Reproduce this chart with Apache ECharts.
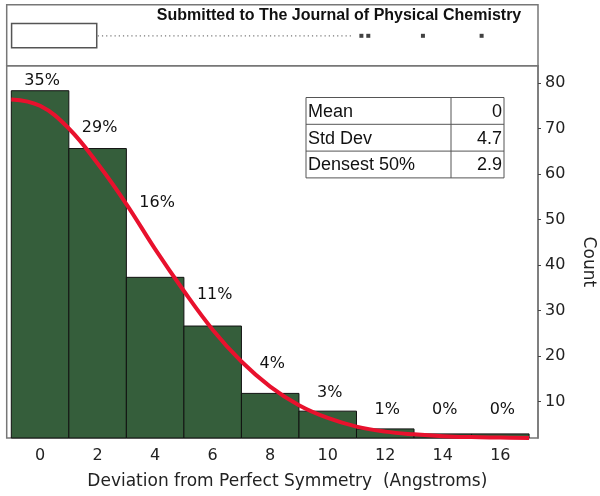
<!DOCTYPE html>
<html>
<head>
<meta charset="utf-8">
<script src="https://cdn.jsdelivr.net/npm/echarts@6/dist/echarts.min.js"></script>
<style>html,body{margin:0;padding:0;background:#fff;}#c{width:600px;height:496px;}</style>
</head>
<body>
<div id="c"></div>
<script>
// ---- data ----
const binCenters = [0, 2, 4, 6, 8, 10, 12, 14, 16];
const counts = [78.3, 65.6, 37.3, 26.6, 11.8, 7.9, 4.0, 2.9, 2.9];
const pctLabels = ['35%', '29%', '16%', '11%', '4%', '3%', '1%', '0%', '0%'];
const xTicks = [0, 2, 4, 6, 8, 10, 12, 14, 16];
const yTicks = [10, 20, 30, 40, 50, 60, 70, 80];
const fitX = [-1, 0, 1, 2, 3, 4, 5, 6, 7, 8, 9, 10, 11, 12, 13, 14, 15, 16, 17];
const fitY = [76.4, 75.0, 70.0, 62.3, 53.4, 43.5, 34.3, 25.8, 18.8, 13.3, 9.2, 6.4, 4.5, 3.4, 2.8, 2.4, 2.2, 2.1, 2.0];
const boxQuartiles = [-0.99, 1.97];
const whiskerHigh = 10.89;
const outliers = [11.17, 11.41, 13.31, 15.35];
const statNames = ['Mean', 'Std Dev', 'Densest 50%'];
const statValues = ['0', '4.7', '2.9'];
const binWidth = 2;

// ---- layout / style ----
const X_MIN = -1.16, X_MAX = 17.31, Y_MIN = 2.0, Y_MAX = 83.8;
const labelDy = [-10, -21, -74, -31, -30, -18, -19, -24, -24];
const barColor = '#355e3b';
const curveColor = '#e8112d';
const frameColor = '#777';
const font = '"DejaVu Sans", sans-serif';

const chart = echarts.init(document.getElementById('c'), null, {renderer: 'canvas'});

const barData = binCenters.map((c, i) => [c, counts[i]]);
const labelData = binCenters.map((c, i) => [c, counts[i], i]);
const fitData = fitX.map((x, i) => [x, fitY[i]]);

// table + title graphics
const tblL = 306, tblR = 504, tblT = 97.5, rowH = 26.8, colX = 451;
const tableFont = '18px "Liberation Sans", Arial, sans-serif';
const tableEls = [];
tableEls.push({type: 'rect', shape: {x: tblL, y: tblT, width: tblR - tblL, height: rowH * 3},
  style: {fill: '#fff', stroke: '#555', lineWidth: 1}, z: 10});
tableEls.push({type: 'line', shape: {x1: colX, y1: tblT, x2: colX, y2: tblT + rowH * 3},
  style: {stroke: '#555', lineWidth: 1}, z: 11});
for (let r = 1; r < 3; r++) {
  tableEls.push({type: 'line', shape: {x1: tblL, y1: tblT + rowH * r, x2: tblR, y2: tblT + rowH * r},
    style: {stroke: '#555', lineWidth: 1}, z: 11});
}
statNames.forEach((n, i) => {
  const cy = tblT + rowH * (i + 0.5) + 1;
  tableEls.push({type: 'text', x: tblL + 2, y: cy, z: 12,
    style: {text: n, fill: '#111', font: tableFont, textAlign: 'left', textVerticalAlign: 'middle', align: 'left', verticalAlign: 'middle'}});
  tableEls.push({type: 'text', x: tblR - 2, y: cy, z: 12,
    style: {text: statValues[i], fill: '#111', font: tableFont, textAlign: 'right', textVerticalAlign: 'middle', align: 'right', verticalAlign: 'middle'}});
});
tableEls.push({type: 'text', x: 339, y: 16, z: 12,
  style: {text: 'Submitted to The Journal of Physical Chemistry', fill: '#111',
    font: 'bold 16px "Liberation Sans", Arial, sans-serif', textAlign: 'center', textVerticalAlign: 'middle', align: 'center', verticalAlign: 'middle'}});

const option = {
  animation: false,
  backgroundColor: '#fff',
  grid: [
    {left: 6.7, right: 62, top: 65.7, bottom: 58, show: true, borderColor: frameColor, borderWidth: 1.5,
      backgroundColor: 'transparent', containLabel: false, outerBoundsMode: 'none'},
    {left: 6.7, right: 62, top: 4.7, height: 61, show: true, borderColor: frameColor, borderWidth: 1.5,
      backgroundColor: 'transparent', containLabel: false, outerBoundsMode: 'none'}
  ],
  xAxis: [
    {type: 'value', gridIndex: 0, min: X_MIN, max: X_MAX,
      axisLine: {show: false, onZero: false}, axisTick: {show: false}, splitLine: {show: false},
      axisLabel: {customValues: xTicks, fontSize: 16, color: '#222', fontFamily: font, margin: 10},
      name: 'Deviation from Perfect Symmetry  (Angstroms)', nameLocation: 'middle', nameGap: 35,
      nameTextStyle: {fontSize: 17, color: '#222', fontFamily: font, padding: [0, 0, 0, 30]}},
    {type: 'value', gridIndex: 1, min: X_MIN, max: X_MAX, show: false}
  ],
  yAxis: [
    {type: 'value', gridIndex: 0, position: 'right', min: Y_MIN, max: Y_MAX,
      axisLine: {show: true, onZero: false, lineStyle: {color: frameColor, width: 1.5}},
      axisTick: {show: true, customValues: yTicks, length: 3, lineStyle: {color: '#444'}},
      splitLine: {show: false},
      axisLabel: {customValues: yTicks, fontSize: 16, color: '#222', fontFamily: font, margin: 7},
      name: 'Count', nameLocation: 'middle', nameRotate: -90, nameGap: 42,
      nameTextStyle: {fontSize: 17, color: '#222', fontFamily: font, padding: [0, 0, 0, 20]}},
    {type: 'value', gridIndex: 1, min: 0, max: 1, show: false}
  ],
  graphic: tableEls,
  series: [
    {type: 'custom', xAxisIndex: 0, yAxisIndex: 0, data: barData, z: 2,
      renderItem: function (params, api) {
        const x = api.value(0), v = api.value(1);
        const p0 = api.coord([x - binWidth / 2, v]);
        const p1 = api.coord([x + binWidth / 2, Y_MIN]);
        return {type: 'rect', shape: {x: p0[0], y: p0[1], width: p1[0] - p0[0], height: p1[1] - p0[1]},
          style: {fill: barColor, stroke: '#111', lineWidth: 1}};
      }},
    {type: 'line', xAxisIndex: 0, yAxisIndex: 0, data: fitData, smooth: 0.4, showSymbol: false,
      lineStyle: {color: curveColor, width: 4}, z: 3},
    {type: 'custom', xAxisIndex: 0, yAxisIndex: 0, data: labelData, z: 4,
      renderItem: function (params, api) {
        const x = api.value(0), v = api.value(1), i = api.value(2);
        const p = api.coord([x, v]);
        return {type: 'text', x: p[0] + 2, y: p[1] + labelDy[i],
          style: {text: pctLabels[i], fill: '#111', font: '16px "DejaVu Sans", sans-serif',
            textAlign: 'center', textVerticalAlign: 'middle', align: 'center', verticalAlign: 'middle'}};
      }},
    // box plot (top panel)
    {type: 'custom', xAxisIndex: 1, yAxisIndex: 1, data: [[boxQuartiles[0], boxQuartiles[1], whiskerHigh]], z: 2,
      renderItem: function (params, api) {
        const a = api.coord([api.value(0), 0.69]);
        const b = api.coord([api.value(1), 0.295]);
        const m1 = api.coord([api.value(1), 0.49]);
        const m2 = api.coord([api.value(2), 0.49]);
        return {type: 'group', children: [
          {type: 'rect', shape: {x: a[0], y: a[1], width: b[0] - a[0], height: b[1] - a[1]},
            style: {fill: '#fff', stroke: '#555', lineWidth: 1.5}},
          {type: 'line', shape: {x1: m1[0] + 1, y1: m1[1], x2: m2[0], y2: m2[1]},
            style: {stroke: '#777', lineWidth: 1.2, lineDash: [1.2, 3]}}
        ]};
      }},
    {type: 'scatter', xAxisIndex: 1, yAxisIndex: 1, data: outliers.map(o => [o, 0.49]),
      symbol: 'rect', symbolSize: 4, itemStyle: {color: '#111'}, z: 3}
  ]
};
chart.setOption(option);
</script>
</body>
</html>
